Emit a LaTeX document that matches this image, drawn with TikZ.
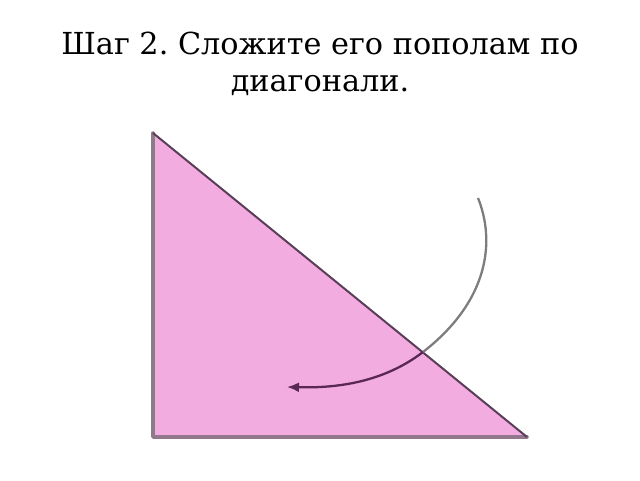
\documentclass[tikz,border=0pt]{standalone}
\usepackage{fontspec}
\setmainfont{DejaVu Serif}
\usetikzlibrary{arrows.meta}
\frenchspacing
\definecolor{paperpink}{RGB}{242,172,224}
\definecolor{edgemauve}{RGB}{145,120,140}
\definecolor{foldline}{RGB}{85,65,85}
\definecolor{arrowgrey}{RGB}{125,125,125}
\definecolor{arrowdark}{RGB}{90,40,85}
\tikzset{
  title/.style={align=center, font=\fontsize{30.3}{37}\selectfont, inner sep=0pt},
  outeredge/.style={draw=edgemauve, line width=3.5pt, line cap=round, line join=round},
  fold/.style={draw=foldline, line width=2pt},
  foldarrow/.style={line width=2.3pt},
}
\begin{document}
\begin{tikzpicture}[x=1pt,y=-1pt]
\useasboundingbox (0,0) rectangle (640,480);
\node[title, anchor=base] (t) at (320,91) {Шаг 2. Сложите его пополам по\\диагонали.};
\coordinate (A) at (153,133);
\coordinate (B) at (153,437);
\coordinate (C) at (527,437);
\fill[paperpink] (A) -- (B) -- (C) -- cycle;
\draw[outeredge] (A) -- (B) -- (C);
\draw[fold] (A) -- (C);
\coordinate (s) at (478,198);
\coordinate (m) at (423,352);
\coordinate (e) at (287,387);
\draw[foldarrow, arrowgrey] (s) .. controls (495,240) and (490,300) .. (m);
\draw[foldarrow, arrowdark, -{Latex[length=12pt,width=10pt]}] (m) .. controls (380,385) and (330,388) .. (e);
\end{tikzpicture}
\end{document}
